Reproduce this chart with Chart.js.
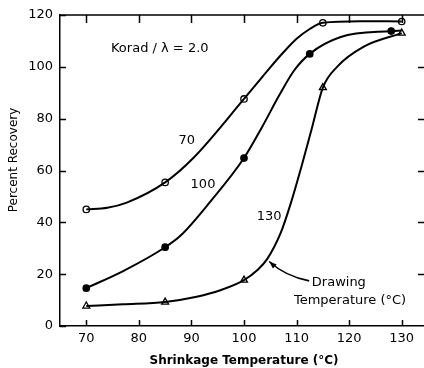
<!DOCTYPE html>
<html>
<head>
<meta charset="utf-8">
<script src="https://cdn.jsdelivr.net/npm/chart.js@4.4.1/dist/chart.umd.min.js"></script>
<style>
  html, body { margin: 0; padding: 0; background: #fff; overflow: hidden; }
  #wrap { width: 440px; height: 368px; }
</style>
</head>
<body>
<div id="wrap"><canvas id="recoveryChart" width="440" height="368"></canvas></div>
<script>
// tick values
const xTicks = [70, 80, 90, 100, 110, 120, 130];
const yTicks = [0, 20, 40, 60, 80, 100, 120];

// measured points (drawing temperature 70, 100, 130 C)
const pts70X  = [70, 85, 100, 115, 130];
const pts70Y  = [45, 55.4, 87.6, 117, 117.5];
const pts100X = [70, 85, 100, 112.5, 128];
const pts100Y = [14.6, 30.4, 64.8, 105, 113.8];
const pts130X = [70, 85, 100, 115, 130];
const pts130Y = [7.7, 9.2, 17.7, 92, 113];

// hand-drawn curves
const curve70X  = [70, 74, 77.7, 85, 90.4, 100, 102.5, 105, 107.6, 110, 112.5, 115, 122, 130];
const curve70Y  = [45, 45.6, 47.6, 55.4, 64.9, 87.6, 93.7, 99.8, 105.8, 110.8, 114.6, 117, 117.6, 117.5];
const curve100X = [70, 77.1, 85, 88, 93.6, 100, 103.5, 106.7, 109.5, 112.5, 118.4, 128, 130];
const curve100Y = [14.6, 21.3, 30.4, 35, 48, 64.8, 77, 89, 98.5, 105, 111.5, 113.8, 114];
const curve130X = [70, 77, 85, 91, 95.5, 100, 102.5, 104.4, 107, 109, 111, 113, 115, 117.75, 122.8, 130];
const curve130Y = [7.7, 8.4, 9.3, 11.3, 13.8, 17.7, 21.5, 25.8, 36, 48, 62, 77, 92, 100.1, 107.8, 113];

const FONT = "'DejaVu Sans', sans-serif";
const pairs = (xs, ys) => xs.map((x, i) => ({ x: x, y: ys[i] }));

const curveSet = (xs, ys) => ({
    data: pairs(xs, ys),
    borderColor: "#000",
    borderWidth: 2,
    pointRadius: 0,
    cubicInterpolationMode: "monotone",
    fill: false
});
const markerSet = (xs, ys, style, fillCol, r) => ({
    data: pairs(xs, ys),
    showLine: false,
    pointStyle: style,
    pointRadius: r,
    pointBackgroundColor: fillCol,
    pointBorderColor: "#000",
    pointBorderWidth: 1.3
});

// inward tick marks, top frame, y title
const frameTicks = {
    id: "frameTicks",
    afterDraw(chart) {
        const { ctx, chartArea: a, scales: { x, y } } = chart;
        ctx.save();
        ctx.strokeStyle = "#000";
        ctx.lineWidth = 1.5;
        ctx.beginPath();
        ctx.moveTo(a.left, a.top); ctx.lineTo(a.right, a.top);
        xTicks.forEach(v => {
            const px = Math.round(x.getPixelForValue(v)) + 0.5;
            ctx.moveTo(px, a.bottom); ctx.lineTo(px, a.bottom - 6);
            ctx.moveTo(px, a.top); ctx.lineTo(px, a.top + 8);
        });
        yTicks.forEach(v => {
            const py = Math.round(y.getPixelForValue(v)) + 0.5;
            ctx.moveTo(a.left, py); ctx.lineTo(a.left + 6, py);
            if (v > 0 && v < 120) { ctx.moveTo(a.right, py); ctx.lineTo(a.right - 10, py); }
        });
        ctx.stroke();

        // rotated axis title
        ctx.translate(14, 160);
        ctx.rotate(-Math.PI / 2);
        ctx.fillStyle = "#000";
        ctx.font = "12px " + FONT;
        ctx.textAlign = "center";
        ctx.textBaseline = "middle";
        ctx.fillText("Percent Recovery", 0, 0);
        ctx.restore();
    }
};

// text labels and arrow inside the plot
const notes = {
    id: "notes",
    afterDatasetsDraw(chart) {
        const { ctx, scales: { x, y } } = chart;
        const X = v => x.getPixelForValue(v), Y = v => y.getPixelForValue(v);
        ctx.save();
        ctx.fillStyle = "#000";
        ctx.textBaseline = "middle";
        ctx.font = "13px " + FONT;
        ctx.textAlign = "left";
        ctx.fillText("Korad / \u03bb = 2.0", X(74.7), Y(106.9));
        ctx.textAlign = "center";
        ctx.fillText("70", X(89.1), Y(71.5));
        ctx.fillText("100", X(92.2), Y(54.4));
        ctx.fillText("130", X(104.8), Y(42.1));
        ctx.textAlign = "left";
        ctx.fillText("Drawing", X(112.9), Y(16.6));
        ctx.fillText("Temperature (\u00b0C)", X(109.5), Y(9.6));

        // arrow
        const sx = X(112.4), sy = Y(17.4), cx = X(107.8), cy = Y(19.3), ex = X(104.8), ey = Y(24.9);
        ctx.strokeStyle = "#000";
        ctx.lineWidth = 1.6;
        ctx.beginPath();
        ctx.moveTo(sx, sy);
        ctx.quadraticCurveTo(cx, cy, ex, ey);
        ctx.stroke();
        const ang = Math.atan2(ey - cy, ex - cx);
        ctx.beginPath();
        ctx.moveTo(ex, ey);
        ctx.lineTo(ex - 8 * Math.cos(ang - 0.35), ey - 8 * Math.sin(ang - 0.35));
        ctx.lineTo(ex - 8 * Math.cos(ang + 0.35), ey - 8 * Math.sin(ang + 0.35));
        ctx.closePath();
        ctx.fill();
        ctx.restore();
    }
};

new Chart(document.getElementById("recoveryChart"), {
    type: "line",
    data: {
        datasets: [
            curveSet(curve70X, curve70Y),
            curveSet(curve100X, curve100Y),
            curveSet(curve130X, curve130Y),
            markerSet(pts70X, pts70Y, "circle", "#fff", 3.2),
            markerSet(pts100X, pts100Y, "circle", "#000", 3.2),
            markerSet(pts130X, pts130Y, "triangle", "#fff", 4)
        ]
    },
    options: {
        responsive: false,
        animation: false,
        layout: { padding: { top: 15, right: 12, left: 0, bottom: 0 } },
        plugins: { legend: { display: false }, tooltip: { enabled: false } },
        scales: {
            x: {
                type: "linear",
                min: 65, max: 135,
                afterBuildTicks: s => { s.ticks = xTicks.map(v => ({ value: v })); },
                afterFit: s => { s.height = 42; },
                grid: { display: false, drawTicks: false },
                border: { display: true, color: "#000", width: 1.5 },
                ticks: { color: "#000", padding: 5, font: { family: FONT, size: 13 } },
                title: {
                    display: true, text: "Shrinkage Temperature (\u00b0C)", color: "#000",
                    font: { family: FONT, size: 12, weight: "bold" },
                    padding: { top: 0, bottom: 0 }
                }
            },
            y: {
                min: 0, max: 120,
                afterBuildTicks: s => { s.ticks = yTicks.map(v => ({ value: v })); },
                afterFit: s => { s.width = 60; },
                grid: { display: false, drawTicks: false },
                border: { display: true, color: "#000", width: 1.5 },
                ticks: { color: "#000", padding: 7, font: { family: FONT, size: 13 } },
                title: { display: false }
            }
        }
    },
    plugins: [frameTicks, notes]
});
</script>
</body>
</html>
